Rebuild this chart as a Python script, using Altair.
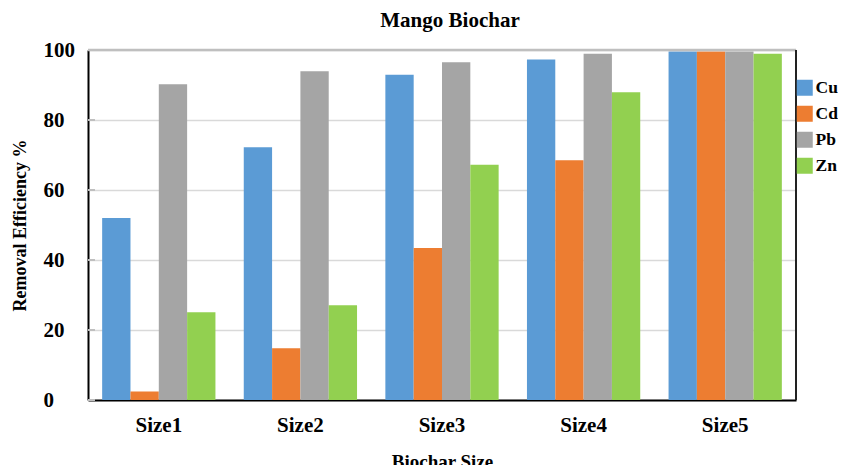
import altair as alt
import pandas as pd

sizes = ["Size1", "Size2", "Size3", "Size4", "Size5"]
metals = ["Cu", "Cd", "Pb", "Zn"]
cu = [52.0, 72.2, 92.9, 97.3, 99.6]
cd = [2.4, 14.8, 43.4, 68.5, 99.6]
pb = [90.2, 93.9, 96.5, 98.9, 99.6]
zn = [25.1, 27.1, 67.2, 87.9, 98.9]
colors = ["#5B9BD5", "#ED7D31", "#A5A5A5", "#92D050"]
yticks = [0, 20, 40, 60, 80, 100]

series = {"Cu": cu, "Cd": cd, "Pb": pb, "Zn": zn}
rows = []
for m in metals:
    for s, v in zip(sizes, series[m]):
        rows.append({"size": s, "metal": m, "value": v})
df = pd.DataFrame(rows)

FONT = "Liberation Serif"
W, H = 708, 350
PAD_L, PAD_T = 80, 42
PAD_R = 830 - PAD_L - W
PAD_B = 90

bars = alt.Chart(df).mark_bar().encode(
    x=alt.X(
        "size:N",
        sort=sizes,
        scale=alt.Scale(paddingInner=0.2, paddingOuter=0.1),
        axis=alt.Axis(
            title="Biochar Size",
            labelAngle=0,
            ticks=False,
            tickSize=0,
            labelPadding=14,
            domainColor="black",
            domainWidth=2,
            labelFont=FONT,
            labelFontWeight="bold",
            labelFontSize=21,
            labelColor="black",
            titleFont=FONT,
            titleFontWeight="bold",
            titleFontSize=19,
            titleColor="black",
            titlePadding=17,
        ),
    ),
    xOffset=alt.XOffset("metal:N", sort=metals, scale=alt.Scale(paddingInner=0, paddingOuter=0)),
    y=alt.Y(
        "value:Q",
        scale=alt.Scale(domain=[0, 100], nice=False),
        axis=alt.Axis(
            title="Removal Efficiency %",
            values=yticks,
            grid=True,
            gridColor="#d9d9d9",
            gridWidth=1.5,
            ticks=False,
            tickSize=0,
            domainColor="black",
            domainWidth=2,
            labelAlign="left",
            labelPadding=45,
            labelFont=FONT,
            labelFontWeight="bold",
            labelFontSize=21,
            labelColor="black",
            titleFont=FONT,
            titleFontWeight="bold",
            titleFontSize=18,
            titleColor="black",
            titlePadding=14,
        ),
    ),
    color=alt.Color(
        "metal:N",
        sort=metals,
        scale=alt.Scale(domain=metals, range=colors),
        legend=alt.Legend(
            title=None,
            orient="none",
            legendX=708,
            legendY=29,
            symbolType="square",
            symbolSize=256,
            symbolStrokeWidth=0,
            symbolOpacity=1,
            labelFont=FONT,
            labelFontWeight="bold",
            labelFontSize=17.5,
            labelColor="black",
            labelOffset=2,
            rowPadding=7,
        ),
    ),
)

stubs = alt.Chart(pd.DataFrame({"v": yticks})).mark_rule(color="#bfbfbf", strokeWidth=2).encode(
    y=alt.Y("v:Q"), x=alt.value(0), x2=alt.value(7)
)

one = pd.DataFrame({"k": [0]})
top_line = alt.Chart(one).mark_rule(color="#bfbfbf", strokeWidth=2.5).encode(
    x=alt.value(0), x2=alt.value(W), y=alt.value(0)
)
right_line = alt.Chart(one).mark_rule(color="#222222", strokeWidth=2).encode(
    x=alt.value(W), y=alt.value(0), y2=alt.value(H)
)

chart = alt.layer(bars, stubs, top_line, right_line).properties(
    width=W,
    height=H,
    autosize=alt.AutoSizeParams(type="none"),
    padding={"left": PAD_L, "top": PAD_T, "right": PAD_R, "bottom": PAD_B},
    title=alt.TitleParams(
        "Mango  Biochar",
        font=FONT,
        fontWeight="bold",
        fontSize=21,
        color="black",
        anchor="middle",
        offset=8,
        dx=8,
    ),
).configure_view(stroke=None).configure(background="white")

chart.save("out.html", embed_options={"renderer": "svg", "actions": False})
